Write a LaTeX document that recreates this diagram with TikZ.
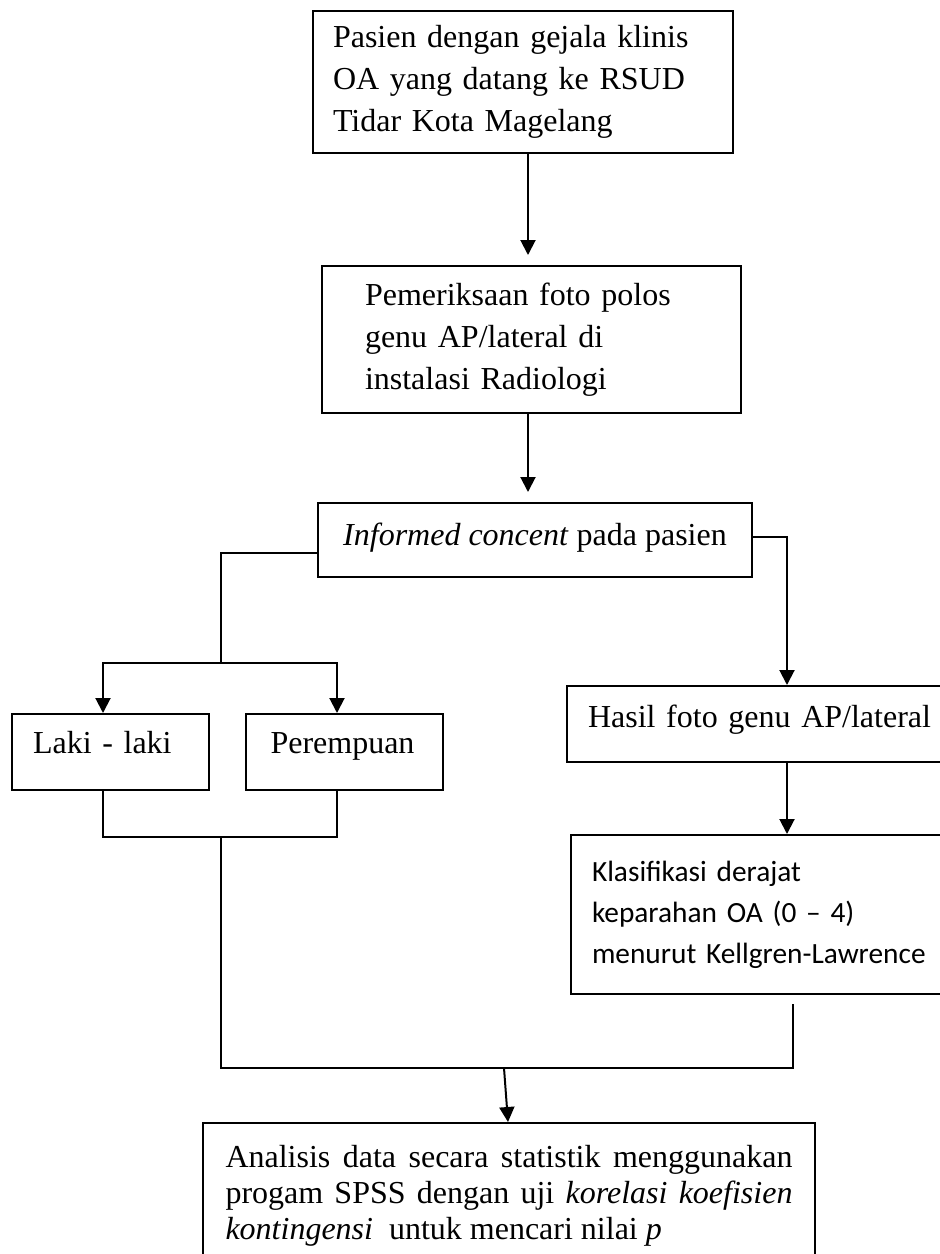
\documentclass[tikz,border=0pt]{standalone}
\usepackage{fontspec}
\setmainfont{Liberation Serif}
\newfontfamily\klasfont[Ligatures=TeX]{Carlito}
\usetikzlibrary{arrows.meta,positioning,calc}

\begin{document}
\begin{tikzpicture}[
  x=0.5pt, y=-0.5pt,
  every node/.style={font=\fontsize{16}{21}\selectfont},
  box/.style={draw, line width=1pt, rectangle, inner sep=0pt, align=left},
  line/.style={line width=1pt},
  >={Triangle[length=7.5pt,width=7.5pt]}
]
  \useasboundingbox (0,0) rectangle (939,1254);

  \node[box, minimum width=210pt, minimum height=71pt, text width=190pt] (pasien) at (523,82)
    {Pasien dengan gejala klinis\\OA yang datang ke RSUD\\Tidar Kota Magelang};
  \node[box, minimum width=209.5pt, minimum height=73.5pt, text width=166.5pt] (periksa) at (531.5,339.5)
    {Pemeriksaan foto polos\\genu AP/lateral di\\instalasi Radiologi};
  \node[box, minimum width=217pt, minimum height=37pt, text height=10.9pt, text depth=5.3pt] (consent) at (535,540)
    {\textit{Informed concent} pada pasien};
  \node[box, minimum width=98.5pt, minimum height=38pt, text width=77.5pt, text height=10.9pt, text depth=9.3pt] (laki) at (110.5,752)
    {Laki - laki};
  \node[box, minimum width=98.5pt, minimum height=38pt, text width=74pt, text height=10.9pt, text depth=9.3pt] (perem) at (344.5,752)
    {Perempuan};
  \node[box, minimum width=194pt, minimum height=38pt, text width=173pt, text height=10.9pt, text depth=7.3pt] (hasil) at (761,724)
    {Hasil foto genu AP/lateral};
  \node[box, minimum width=192pt, minimum height=79.5pt, text width=171pt, font=\klasfont\fontsize{14.67}{20.5}\selectfont] (klas) at (763,914.5)
    {Klasifikasi derajat\\keparahan OA (0 – 4)\\menurut Kellgren-Lawrence};
  \node[box, anchor=north, align=justify, text width=283.5pt, inner xsep=11.25pt, inner ysep=10.9pt, font=\fontsize{16}{18}\selectfont] (analisis) at (509,1122)
    {Analisis data secara statistik menggunakan\linebreak progam SPSS dengan uji \textit{korelasi koefisien}\linebreak \textit{kontingensi} \ untuk mencari nilai \textit{p}};

  % main column
  \coordinate (a1) at ([xshift=2.5pt]pasien.south);
  \draw[line, ->, shorten >=5pt] (a1) -- (a1 |- periksa.north);
  \coordinate (a2) at (a1 |- periksa.south);
  \draw[line, ->, shorten >=5pt] (a2) -- (a2 |- consent.north);

  % left branch
  \coordinate (split) at (221,663);
  \coordinate (lk) at ([xshift=-3.75pt]laki.north);
  \coordinate (pr) at ([xshift=-3.75pt]perem.north);
  \draw[line] ([yshift=-6.5pt]consent.west) -| (split);
  \draw[line, ->] (split) -| (lk);
  \draw[line, ->] (split) -| (pr);

  % right branch
  \coordinate (hs) at ([xshift=13pt]hasil.north);
  \draw[line, ->] ([yshift=1.5pt]consent.east) -| (hs);
  \draw[line, ->] (hs |- hasil.south) -- (hs |- klas.north);

  % merge
  \coordinate (join) at (221,837);
  \draw[line] (lk |- laki.south) |- (join) -| (pr |- perem.south);
  \coordinate (kend) at ([xshift=15pt,yshift=-4.5pt]klas.south);
  \coordinate (merge) at (221,1068);
  \draw[line] (join) -- (merge) -| (kend);
  \coordinate (drop) at (504,1068);
  \draw[line, ->] (drop) -- ([xshift=-0.5pt]analisis.north);
\end{tikzpicture}
\end{document}
